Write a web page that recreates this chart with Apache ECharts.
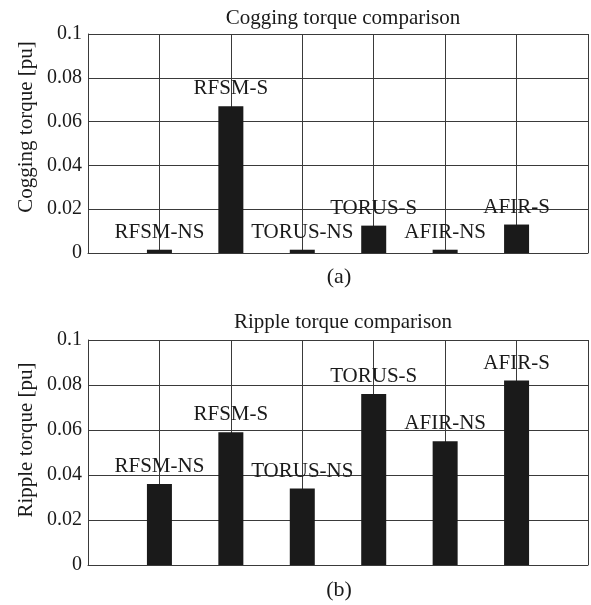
<!DOCTYPE html>
<html>
<head>
<meta charset="utf-8">
<script src="https://cdn.jsdelivr.net/npm/echarts@6/dist/echarts.min.js"></script>
<style>
html,body{margin:0;padding:0;background:#fff;}
#c{width:591px;height:605px;}
</style>
</head>
<body>
<div id="c"></div>
<script>
const categories = ['RFSM-NS', 'RFSM-S', 'TORUS-NS', 'TORUS-S', 'AFIR-NS', 'AFIR-S'];
const coggingValues = [0.0015, 0.067, 0.0015, 0.0125, 0.0015, 0.013];
const rippleValues = [0.036, 0.059, 0.034, 0.076, 0.055, 0.082];
const yTicks = [0, 0.02, 0.04, 0.06, 0.08, 0.1];
const titles = ['Cogging torque comparison', 'Ripple torque comparison'];
const yNames = ['Cogging torque [pu]', 'Ripple torque [pu]'];
const panelTags = ['(a)', '(b)'];

const FONT = '"Liberation Serif", "DejaVu Serif", serif';
const INK = '#1a1a1a';
const GRID = '#3a3a3a';

const grids = [
  {left: 88, top: 34, width: 500, height: 219},
  {left: 88, top: 340, width: 500, height: 225}
];

function mkX(i) {
  return {
    type: 'value', gridIndex: i, min: 0, max: 7, interval: 1,
    axisLabel: {show: false}, axisTick: {show: false},
    axisLine: {show: true, lineStyle: {color: GRID, width: 1}},
    splitLine: {show: true, lineStyle: {color: GRID, width: 1}}
  };
}
function mkY(i) {
  return {
    type: 'value', gridIndex: i, min: 0, max: 0.1, interval: 0.02,
    axisTick: {show: false},
    axisLine: {show: true, lineStyle: {color: GRID, width: 1}},
    splitLine: {show: true, lineStyle: {color: GRID, width: 1}},
    axisLabel: {
      fontFamily: FONT, fontSize: 20, color: INK, margin: 6,
      formatter: function (v) {
        const t = yTicks.find(x => Math.abs(x - v) < 1e-9);
        return String(t !== undefined ? t : v);
      }
    }
  };
}
function mkSeries(i, vals) {
  return {
    type: 'bar', xAxisIndex: i, yAxisIndex: i, barWidth: 25,
    itemStyle: {color: '#1a1a1a'},
    label: {
      show: true, position: 'top', distance: 7,
      fontFamily: FONT, fontSize: 21, color: INK,
      formatter: function (p) { return categories[p.dataIndex]; }
    },
    data: vals.map((v, k) => [k + 1, v])
  };
}

const chart = echarts.init(document.getElementById('c'));
chart.setOption({
  animation: false,
  backgroundColor: '#ffffff',
  title: [
    {text: titles[0], left: 338, top: 3, textAlign: 'center',
     textStyle: {fontFamily: FONT, fontSize: 21, fontWeight: 'normal', color: INK}},
    {text: titles[1], left: 338, top: 307, textAlign: 'center',
     textStyle: {fontFamily: FONT, fontSize: 21, fontWeight: 'normal', color: INK}}
  ],
  grid: grids,
  xAxis: [mkX(0), mkX(1)],
  yAxis: [mkY(0), mkY(1)],
  series: [mkSeries(0, coggingValues), mkSeries(1, rippleValues)],
  graphic: [
    {type: 'text', x: 26, y: 127, rotation: Math.PI / 2,
     style: {text: yNames[0], fontFamily: FONT, fontSize: 21, fill: INK, textAlign: 'center', textVerticalAlign: 'middle'}},
    {type: 'text', x: 26, y: 440, rotation: Math.PI / 2,
     style: {text: yNames[1], fontFamily: FONT, fontSize: 21, fill: INK, textAlign: 'center', textVerticalAlign: 'middle'}},
    {type: 'text', x: 339, y: 277,
     style: {text: panelTags[0], fontFamily: FONT, fontSize: 22, fill: INK, textAlign: 'center', textVerticalAlign: 'middle'}},
    {type: 'text', x: 339, y: 590,
     style: {text: panelTags[1], fontFamily: FONT, fontSize: 22, fill: INK, textAlign: 'center', textVerticalAlign: 'middle'}}
  ]
});
</script>
</body>
</html>
